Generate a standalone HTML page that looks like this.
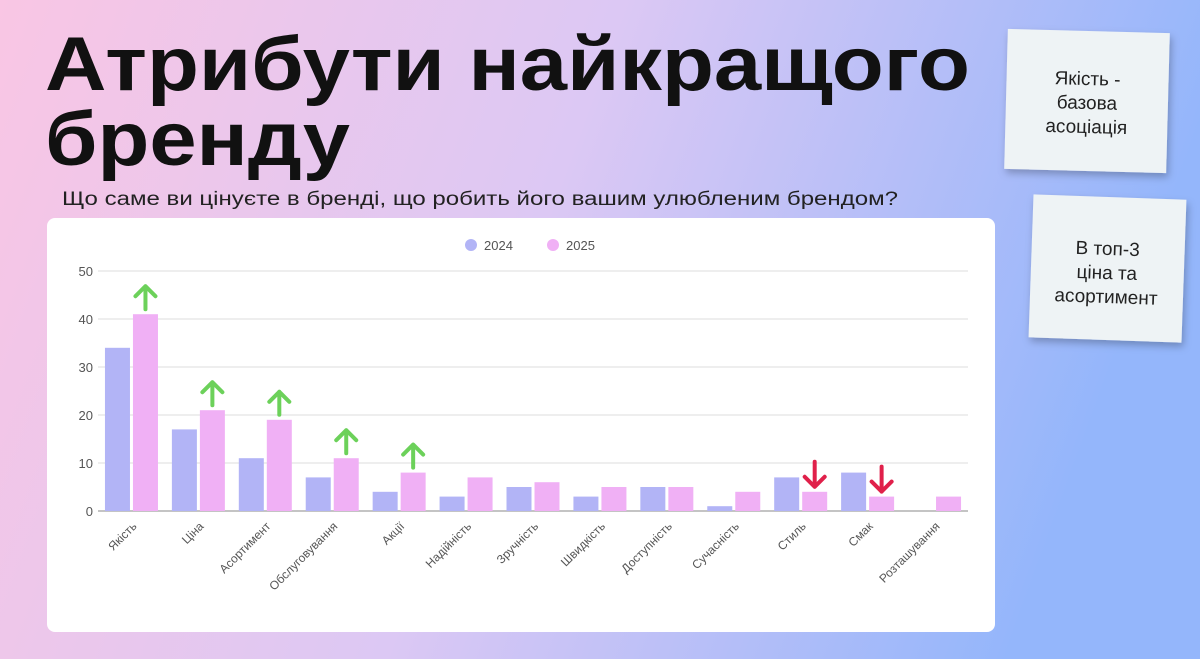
<!DOCTYPE html>
<html><head><meta charset="utf-8"><style>
body{margin:0;width:1200px;height:659px;overflow:hidden;font-family:"Liberation Sans",sans-serif}
</style></head><body>
<svg width="1200" height="659" xmlns="http://www.w3.org/2000/svg">
<defs>
<linearGradient id="bg" x1="0" y1="0" x2="1" y2="0.2">
<stop offset="0" stop-color="#f9c6e4"/><stop offset="0.5" stop-color="#dcc8f4"/><stop offset="1" stop-color="#94b6fb"/>
</linearGradient>
<filter id="sh" x="-20%" y="-20%" width="140%" height="140%"><feDropShadow dx="2" dy="4" stdDeviation="4" flood-opacity="0.25"/></filter>
</defs>
<rect width="1200" height="659" fill="url(#bg)"/>
<text x="45" y="90" font-size="76" font-weight="bold" fill="#111" textLength="925" lengthAdjust="spacingAndGlyphs">Атрибути найкращого</text>
<text x="45" y="165" font-size="76" font-weight="bold" fill="#111" textLength="305" lengthAdjust="spacingAndGlyphs">бренду</text>
<text x="62" y="205" font-size="19" fill="#222" textLength="836" lengthAdjust="spacingAndGlyphs">Що саме ви цінуєте в бренді, що робить його вашим улюбленим брендом?</text>
<g transform="rotate(1.5 1087 101)">
<rect x="1006" y="31" width="162" height="140" fill="#eef3f5" filter="url(#sh)"/>
<text x="1087" y="85" font-size="19" fill="#222" text-anchor="middle">Якість -</text>
<text x="1087" y="109" font-size="19" fill="#222" text-anchor="middle">базова</text>
<text x="1087" y="133" font-size="19" fill="#222" text-anchor="middle">асоціація</text>
</g>
<g transform="rotate(2 1107 268)">
<rect x="1031" y="197" width="153" height="143" fill="#eef3f5" filter="url(#sh)"/>
<text x="1107" y="255" font-size="19" fill="#222" text-anchor="middle">В топ-3</text>
<text x="1107" y="279" font-size="19" fill="#222" text-anchor="middle">ціна та</text>
<text x="1107" y="303" font-size="19" fill="#222" text-anchor="middle">асортимент</text>
</g>
<rect x="47" y="218" width="948" height="414" rx="8" fill="#fff"/>
<g>
<circle cx="471" cy="245" r="6" fill="#b2b4f6"/>
<text x="484" y="250" font-size="13" fill="#555">2024</text>
<circle cx="553" cy="245" r="6" fill="#f0b0f5"/>
<text x="566" y="250" font-size="13" fill="#555">2025</text>
</g>
<g id="chart"></g>
</svg>
<script>
const categories=["Якість","Ціна","Асортимент","Обслуговування","Акції","Надійність","Зручність","Швидкість","Доступність","Сучасність","Стиль","Смак","Розташування"];
const values2024=[34,17,11,7,4,3,5,3,5,1,7,8,0];
const values2025=[41,21,19,11,8,7,6,5,5,4,4,3,3];
const trend=["up","up","up","up","up","","","","","","down","down",""];
const yTicks=[0,10,20,30,40,50];
const NS="http://www.w3.org/2000/svg";
const g=document.getElementById("chart");
const x0=98,x1=968,yBase=511,yTop=271,yMax=50;
const step=(x1-x0)/categories.length;
const y=v=>yBase-(v/yMax)*(yBase-yTop);
const cx=i=>x0+step*(i+0.5);
function mk(t,a){const e=document.createElementNS(NS,t);for(const k in a)e.setAttribute(k,a[k]);g.appendChild(e);return e;}
yTicks.forEach(t=>{
 const l=mk("line",{x1:x0,x2:x1,y1:y(t),y2:y(t),stroke:t===0?"#888":"#ddd","stroke-width":1});
 
 
 const tx=mk("text",{x:93,y:y(t)+5,"font-size":13,fill:"#555","text-anchor":"end"});tx.textContent=t;
 
 
});
const bw=25;
categories.forEach((c,i)=>{
 const a=mk("rect",{x:cx(i)-bw-1.5,y:y(values2024[i]),width:bw,height:yBase-y(values2024[i]),fill:"#b2b4f6"});
 
 
 const b=mk("rect",{x:cx(i)+1.5,y:y(values2025[i]),width:bw,height:yBase-y(values2025[i]),fill:"#f0b0f5"});
 
 
 const lb=mk("text",{x:cx(i)+6,y:527,"font-size":12,fill:"#555","text-anchor":"end",transform:`rotate(-45 ${cx(i)+6} 527)`});lb.textContent=c;
 
 
 const ax=cx(i)+1.5+bw/2, top=y(values2025[i]);
 if(trend[i]==="up"){
  const p=mk("path",{d:`M${ax} ${top-5} V${top-28} M${ax-10} ${top-18} L${ax} ${top-28} L${ax+10} ${top-18}`,stroke:"#6cd15a","stroke-width":4,fill:"none","stroke-linecap":"round","stroke-linejoin":"round"});
  
  
 } else if(trend[i]==="down"){
  const p=mk("path",{d:`M${ax} ${top-30} V${top-5} M${ax-10} ${top-15} L${ax} ${top-5} L${ax+10} ${top-15}`,stroke:"#e0204a","stroke-width":4,fill:"none","stroke-linecap":"round","stroke-linejoin":"round"});
  
  
 }
});
</script>
</body></html>
